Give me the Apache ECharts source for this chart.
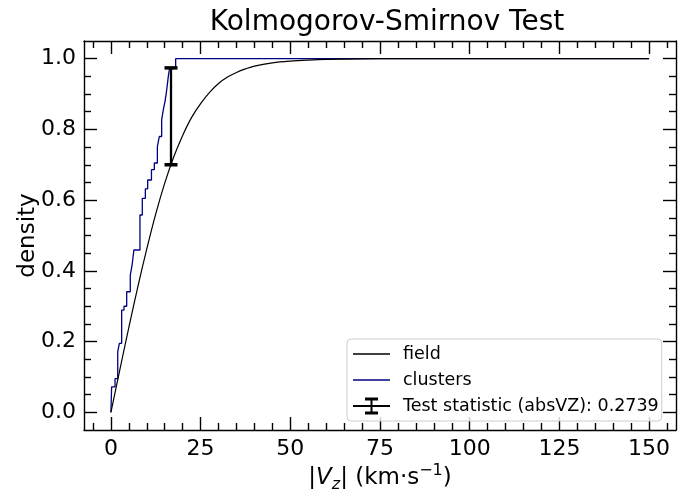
<!DOCTYPE html>
<html>
<head>
<meta charset="utf-8">
<script src="https://cdn.jsdelivr.net/npm/echarts@6/dist/echarts.min.js"></script>
<style>
  html, body { margin: 0; padding: 0; background: #fff; }
  #main { width: 696px; height: 494px; }
</style>
</head>
<body>
<div id="main"></div>
<script>
// field CDF
const fieldX = [0, 2.5, 5, 7.5, 10, 12.5, 15, 17.5, 20, 22.5, 25, 27.5, 30, 32.5, 35, 37.5, 40, 45, 50, 55, 60, 70, 80, 100, 150];
const fieldY = [0, 0.121, 0.24, 0.355, 0.462, 0.561, 0.648, 0.722, 0.783, 0.834, 0.873, 0.905, 0.930, 0.948, 0.961, 0.971, 0.979, 0.988, 0.993, 0.996, 0.998, 0.9995, 1.0, 1.0, 1.0];

// clusters ECDF: x where each step happens, value after the step
const clusterX = [0, 0.2, 1.15, 1.9, 2.35, 3.0, 3.65, 4.4, 5.4, 5.9, 6.4, 8.1, 8.75, 9.6, 10.25, 11.3, 12.1, 12.95, 13.5, 14.15, 14.6, 15.1, 15.55, 16.0, 16.3, 16.75, 18.05, 150];
const clusterY = [0, 0.072, 0.095, 0.171, 0.195, 0.289, 0.30, 0.341, 0.388, 0.416, 0.459, 0.558, 0.605, 0.632, 0.657, 0.686, 0.705, 0.751, 0.78, 0.827, 0.855, 0.88, 0.912, 0.95, 0.969, 0.974, 1.0, 1.0];

// KS statistic bar
const ksX = [16.75];
const ksLow = [0.700];
const ksHigh = [0.974];
const ksName = 'Test statistic (absVZ): 0.2739';

const xTicks = [0, 25, 50, 75, 100, 125, 150];
const yTicks = [0.0, 0.2, 0.4, 0.6, 0.8, 1.0];
const xMinor = [-5, 5, 10, 15, 20, 30, 35, 40, 45, 55, 60, 65, 70, 80, 85, 90, 95, 105, 110, 115, 120, 130, 135, 140, 145, 155];
const yMinor = [0.05, 0.1, 0.15, 0.25, 0.3, 0.35, 0.45, 0.5, 0.55, 0.65, 0.7, 0.75, 0.85, 0.9, 0.95];

const font = 'DejaVu Sans';
const ink = '#000';

function axis(kind, pos, ticks, len, main) {
  const isX = kind === 'x';
  const labelled = main && (pos === 'bottom' || pos === 'left');
  return {
    type: 'value',
    position: pos,
    min: isX ? -7.5 : -0.05,
    max: isX ? 157.5 : 1.05,
    splitLine: { show: false },
    axisLine: { show: main, onZero: false, lineStyle: { color: ink, width: 1.4 } },
    axisTick: { show: true, inside: true, length: len, customValues: ticks, lineStyle: { color: ink, width: 1.4 } },
    axisLabel: {
      show: labelled,
      customValues: ticks,
      margin: 8,
      fontFamily: font,
      fontSize: 22,
      color: ink,
      formatter: isX ? (v => String(v)) : (v => v.toFixed(1))
    }
  };
}

const xMain = axis('x', 'bottom', xTicks, 13, true);
xMain.name = '{t||}{i|V}{s|z}{t|| (km·s}{p|−1}{t|)}';
xMain.nameLocation = 'middle';
xMain.nameGap = 33;
xMain.nameMoveOverlap = false;
xMain.nameTextStyle = {
  rich: {
    t: { fontFamily: font, fontSize: 23, color: ink, lineHeight: 30 },
    i: { fontFamily: font, fontSize: 23, color: ink, fontStyle: 'italic', lineHeight: 30 },
    s: { fontFamily: font, fontSize: 16, color: ink, fontStyle: 'italic', verticalAlign: 'bottom', lineHeight: 16 },
    p: { fontFamily: font, fontSize: 16, color: ink, verticalAlign: 'top', lineHeight: 16 }
  }
};

const yMain = axis('y', 'left', yTicks, 13, true);
yMain.name = 'density';
yMain.nameLocation = 'middle';
yMain.nameGap = 44;
yMain.nameMoveOverlap = false;
yMain.nameTextStyle = { fontFamily: font, fontSize: 23, color: ink };

const chart = echarts.init(document.getElementById('main'));
chart.setOption({
  animation: false,
  backgroundColor: '#fff',
  title: {
    text: 'Kolmogorov-Smirnov Test',
    left: 382,
    top: 4,
    textAlign: 'center',
    textStyle: { fontFamily: font, fontSize: 28, fontWeight: 'normal', color: ink }
  },
  grid: { left: 84, right: 20, top: 41, bottom: 64, containLabel: false, outerBoundsMode: 'none' },
  xAxis: [
    xMain,
    axis('x', 'bottom', xMinor, 7, false),
    axis('x', 'top', xTicks, 13, true),
    axis('x', 'top', xMinor, 7, false)
  ],
  yAxis: [
    yMain,
    axis('y', 'left', yMinor, 7, false),
    axis('y', 'right', yTicks, 13, true),
    axis('y', 'right', yMinor, 7, false)
  ],
  legend: {
    orient: 'vertical',
    left: 347,
    top: 339,
    padding: [5, 3, 5, 6],
    itemGap: 6,
    itemWidth: 37,
    itemHeight: 17,
    symbolKeepAspect: true,
    selectedMode: false,
    borderColor: '#cccccc',
    borderWidth: 1,
    borderRadius: 4,
    backgroundColor: 'rgba(255,255,255,0.8)',
    textStyle: { fontFamily: font, fontSize: 17.5, color: ink, lineHeight: 20, padding: [0, 0, 0, 8] },
    data: [
      { name: 'field', icon: 'path://M0,0h37v1.5h-37z' },
      { name: 'clusters', icon: 'path://M0,0h37v1.5h-37z' },
      { name: ksName, icon: 'path://M0,7.5h37v2h-37z M17.5,0h2v17h-2z M12,0h13v3h-13z M12,14h13v3h-13z' }
    ]
  },
  series: [
    {
      name: 'field',
      type: 'line',
      xAxisIndex: 0,
      yAxisIndex: 0,
      data: fieldX.map((x, i) => [x, fieldY[i]]),
      showSymbol: false,
      symbol: 'none',
      smooth: 0.35,
      lineStyle: { color: ink, width: 1.2 },
      itemStyle: { color: ink },
      z: 3
    },
    {
      name: 'clusters',
      type: 'line',
      xAxisIndex: 0,
      yAxisIndex: 0,
      step: 'end',
      data: clusterX.map((x, i) => [x, clusterY[i]]),
      showSymbol: false,
      symbol: 'none',
      lineStyle: { color: '#000080', width: 1.3 },
      itemStyle: { color: '#000080' },
      z: 2
    },
    {
      name: ksName,
      type: 'custom',
      xAxisIndex: 0,
      yAxisIndex: 0,
      data: ksX.map((x, i) => [x, ksLow[i], ksHigh[i]]),
      encode: { x: 0, y: [1, 2] },
      itemStyle: { color: ink },
      z: 4,
      renderItem: function (params, api) {
        const lo = api.coord([api.value(0), api.value(1)]);
        const hi = api.coord([api.value(0), api.value(2)]);
        const capW = 13, capH = 3.5;
        return {
          type: 'group',
          children: [
            { type: 'line', shape: { x1: lo[0], y1: lo[1], x2: hi[0], y2: hi[1] }, style: { stroke: ink, lineWidth: 2.3 } },
            { type: 'rect', shape: { x: hi[0] - capW / 2, y: hi[1] - capH / 2, width: capW, height: capH }, style: { fill: ink } },
            { type: 'rect', shape: { x: lo[0] - capW / 2, y: lo[1] - capH / 2, width: capW, height: capH }, style: { fill: ink } }
          ]
        };
      }
    }
  ]
});
</script>
</body>
</html>
